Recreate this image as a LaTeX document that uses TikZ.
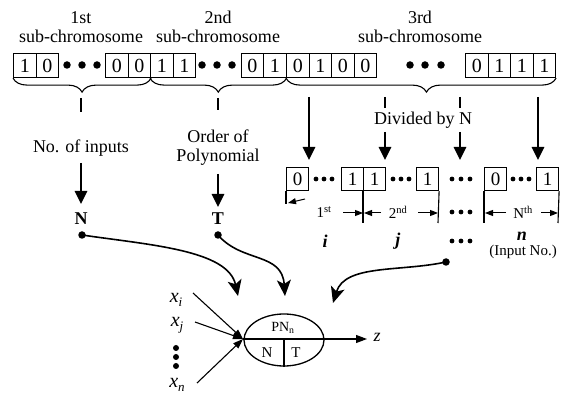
\documentclass[tikz,border=0pt]{standalone}
\usepackage{fontspec}
\setmainfont{Liberation Serif}
\usetikzlibrary{arrows.meta,decorations.pathreplacing,shapes.geometric}
\newcommand{\xsub}[1]{{\fontsize{20}{20}\selectfont\itshape x}\raisebox{-4pt}{\fontsize{13}{13}\selectfont\itshape #1}}
\begin{document}
\begin{tikzpicture}[x=1pt,y=-1pt,
  every node/.style={font=\fontsize{18}{19}\selectfont, inner sep=0pt},
  bitcell/.style={draw, line width=1.1pt, minimum width=22.5pt, minimum height=24pt, anchor=north west, font=\fontsize{20}{20}\selectfont},
  smallcell/.style={draw, line width=1.1pt, minimum width=22pt, minimum height=23pt, anchor=north west, font=\fontsize{19}{19}\selectfont},
  bigdot/.style={circle, fill, minimum size=7.5pt},
  smalldot/.style={circle, fill, minimum size=4.8pt},
  thickarrow/.style={line width=2.6pt, -{Triangle[width=12pt,length=13pt]}},
  tickline/.style={line width=2.6pt},
  curvearrow/.style={line width=1.6pt, -{Stealth[width=14pt,length=16pt,inset=4pt]}},
  dimarrow/.style={line width=1pt, -{Triangle[width=6pt,length=8pt]}},
  inarrow/.style={line width=1.1pt, -{Triangle[width=7pt,length=10pt]}},
  thinline/.style={line width=1.1pt},
  bracestyle/.style={decorate, decoration={brace, mirror, amplitude=14pt}, line width=1.1pt},
  smalltext/.style={font=\fontsize{15}{16}\selectfont},
]
\useasboundingbox (0,0) rectangle (563,398);

% headings
\node[align=center] (h1) at (81,27) {1st\\sub-chromosome};
\node[align=center] (h2) at (218,27) {2nd\\sub-chromosome};
\node[align=center] (h3) at (420,27) {3rd\\sub-chromosome};

% top row, group 1
\node[bitcell] (a1) at (13,53) {1};
\node[bitcell] (a2) at (35.5,53) {0};
\node[bigdot] (ad1) at (67,65) {};
\node[bigdot] (ad2) at (82,65) {};
\node[bigdot] (ad3) at (97,65) {};
\node[bitcell] (a3) at (105,53) {0};
\node[bitcell] (a4) at (127.5,53) {0};
% group 2
\node[bitcell] (b1) at (150,53) {1};
\node[bitcell] (b2) at (172.5,53) {1};
\node[bigdot] (bd1) at (202,65) {};
\node[bigdot] (bd2) at (217,65) {};
\node[bigdot] (bd3) at (232,65) {};
\node[bitcell] (b3) at (240.5,53) {0};
\node[bitcell] (b4) at (263,53) {1};
% group 3
\node[bitcell] (c1) at (286,53) {0};
\node[bitcell] (c2) at (308.5,53) {1};
\node[bitcell] (c3) at (331,53) {0};
\node[bitcell] (c4) at (353.5,53) {0};
\node[bigdot] (cd1) at (410,65) {};
\node[bigdot] (cd2) at (425,65) {};
\node[bigdot] (cd3) at (441,65) {};
\node[bitcell] (c5) at (465,53) {0};
\node[bitcell] (c6) at (487.5,53) {1};
\node[bitcell] (c7) at (510,53) {1};
\node[bitcell] (c8) at (532.5,53) {1};

% braces
\draw[bracestyle] (a1.south west) -- (a4.south east);
\draw[bracestyle] (b1.south west) -- (b4.south east);
\draw[bracestyle, decoration={aspect=0.52}] (c1.south west) -- (c8.south east);

% column 1
\coordinate (t1a) at (81,98);
\coordinate (t1b) at (81,112);
\coordinate (k1a) at (81,163);
\coordinate (k1b) at (81,204);
\node (lab1) at (81,148) {No. of inputs};
\node (N) at (81,219) {\textbf{N}};
\node[bigdot] (dN) at (82,235) {};
\draw[tickline] (t1a) -- (t1b);
\draw[thickarrow] (k1a) -- (k1b);

% column 2
\coordinate (t2a) at (218,98);
\coordinate (t2b) at (218,110);
\coordinate (k2a) at (218,174);
\coordinate (k2b) at (218,207);
\node[align=center] (lab2) at (218,147.5) {Order of\\Polynomial};
\node (T) at (218,219) {\textbf{T}};
\node[bigdot] (dT) at (218,235) {};
\draw[tickline] (t2a) -- (t2b);
\draw[thickarrow] (k2a) -- (k2b);

% column 3
\node (lab3) at (423,120) {Divided by N};
\coordinate (p1a) at (309,97);
\coordinate (p1b) at (309,160);
\coordinate (p2a) at (385,97);
\coordinate (p2b) at (385,108);
\coordinate (p2c) at (385,132);
\coordinate (p2d) at (385,160);
\coordinate (p3a) at (460,97);
\coordinate (p3b) at (460,108);
\coordinate (p3c) at (460,132);
\coordinate (p3d) at (460,160);
\coordinate (p4a) at (538,97);
\coordinate (p4b) at (538,160);
\draw[thickarrow] (p1a) -- (p1b);
\draw[tickline] (p2a) -- (p2b);
\draw[thickarrow] (p2c) -- (p2d);
\draw[tickline] (p3a) -- (p3b);
\draw[thickarrow] (p3c) -- (p3d);
\draw[thickarrow] (p4a) -- (p4b);

% second row
\node[smallcell] (r1) at (286,167) {0};
\node[smalldot] (rd1) at (316,179) {};
\node[smalldot] (rd2) at (324,179) {};
\node[smalldot] (rd3) at (332,179) {};
\node[smallcell] (r2) at (341,167) {1};
\node[smallcell] (r3) at (363,167) {1};
\node[smalldot] (rd4) at (393,179) {};
\node[smalldot] (rd5) at (401,179) {};
\node[smalldot] (rd6) at (409,179) {};
\node[smallcell] (r4) at (416,167) {1};
\node[smalldot] (rd7) at (452,179) {};
\node[smalldot] (rd8) at (461,179) {};
\node[smalldot] (rd9) at (470,179) {};
\node[smallcell] (r5) at (484,167) {0};
\node[smalldot] (rd10) at (513,179) {};
\node[smalldot] (rd11) at (521,179) {};
\node[smalldot] (rd12) at (529,179) {};
\node[smallcell] (r6) at (536,167) {1};

% dividers
\coordinate (v0) at (286,204);
\coordinate (v1) at (363,223);
\coordinate (v2) at (438,223);
\coordinate (v3) at (484,223);
\coordinate (v4) at (558,223);
\draw[thinline] (r1.south west) -- (v0);
\draw[thinline] (r3.south west) -- (v1);
\draw[thinline] (r4.south east) -- (v2);
\draw[thinline] (r5.south west) -- (v3);
\draw[thinline] (r6.south east) -- (v4);

% dimension labels
\node[smalltext] (o1) at (324,212) {1\textsuperscript{st}};
\node[smalltext] (o2) at (398,212) {2\textsuperscript{nd}};
\node[smalltext] (o3) at (523,212) {N\textsuperscript{th}};
\coordinate (e0s) at (305,199);
\coordinate (e0e) at (288,203);
\coordinate (e1s) at (343,213);
\coordinate (e2s) at (381,213);
\coordinate (e3s) at (418,213);
\coordinate (e4s) at (506,213);
\coordinate (e5s) at (541,213);
\draw[dimarrow] (e0s) -- (e0e);
\draw[dimarrow] (e1s) -- (v1 |- e1s);
\draw[dimarrow] (e2s) -- ([xshift=1pt]v1 |- e2s);
\draw[dimarrow] (e3s) -- (v2 |- e3s);
\draw[dimarrow] (e4s) -- ([xshift=1pt]v3 |- e4s);
\draw[dimarrow] (e5s) -- (v4 |- e5s);
\node[smalldot] (sd1) at (452,212) {};
\node[smalldot] (sd2) at (461,212) {};
\node[smalldot] (sd3) at (470,212) {};

% input indices
\node (ii) at (325,241) {\textbf{\itshape i}};
\node (jj) at (398,241) {\textbf{\itshape j}};
\node[smalldot] (td1) at (452,241) {};
\node[smalldot] (td2) at (461,241) {};
\node[smalldot] (td3) at (470,241) {};
\node (nn) at (522,236) {\textbf{\itshape n}};
\node[smalltext] (inpno) at (523,252) {(Input No.)};
\node[bigdot] (dR) at (446,262) {};

% curved arrows
\coordinate (tip1) at (238,296);
\coordinate (tip2) at (285,296);
\coordinate (tip3) at (333,303);
\draw[curvearrow] (dN.center) .. controls (150,245) and (228,250) .. (tip1);
\draw[curvearrow] (dT.center) .. controls (242,263) and (282,252) .. (tip2);
\draw[curvearrow] (dR.center) .. controls (400,272) and (345,264) .. (tip3);

% neuron
\node[draw, ellipse, line width=1.3pt, minimum width=80pt, minimum height=52pt] (pn) at (284,340) {};
\draw[thinline] (pn.center) -- (pn.south);
\node[font=\fontsize{14}{14}\selectfont] (pnl) at (283,328) {PN\textsubscript{n}};
\node[font=\fontsize{15}{15}\selectfont] (pnN) at (267,353) {N};
\node[font=\fontsize{15}{15}\selectfont] (pnT) at (296,353) {T};

% inputs
\node (xi) at (176,300) {\xsub{i}};
\node (xj) at (177,325) {\xsub{j}};
\node[bigdot, minimum size=6pt] (xd1) at (176,348) {};
\node[bigdot, minimum size=6pt] (xd2) at (176,357) {};
\node[bigdot, minimum size=6pt] (xd3) at (176,366) {};
\node (xn) at (177,385) {\xsub{n}};
\coordinate (C) at (243,339);
\coordinate (si) at (193,293);
\coordinate (sj) at (195,322);
\coordinate (sn) at (197,383);
\draw[inarrow] (si) -- (C);
\draw[inarrow] (sj) -- (C);
\draw[inarrow] (sn) -- (C);
\coordinate (zend) at (367,339);
\draw[line width=1.1pt, -{Triangle[width=8pt,length=11pt]}] (C) -- (zend);
\node (z) at (377,337) {\itshape z};
\end{tikzpicture}
\end{document}
